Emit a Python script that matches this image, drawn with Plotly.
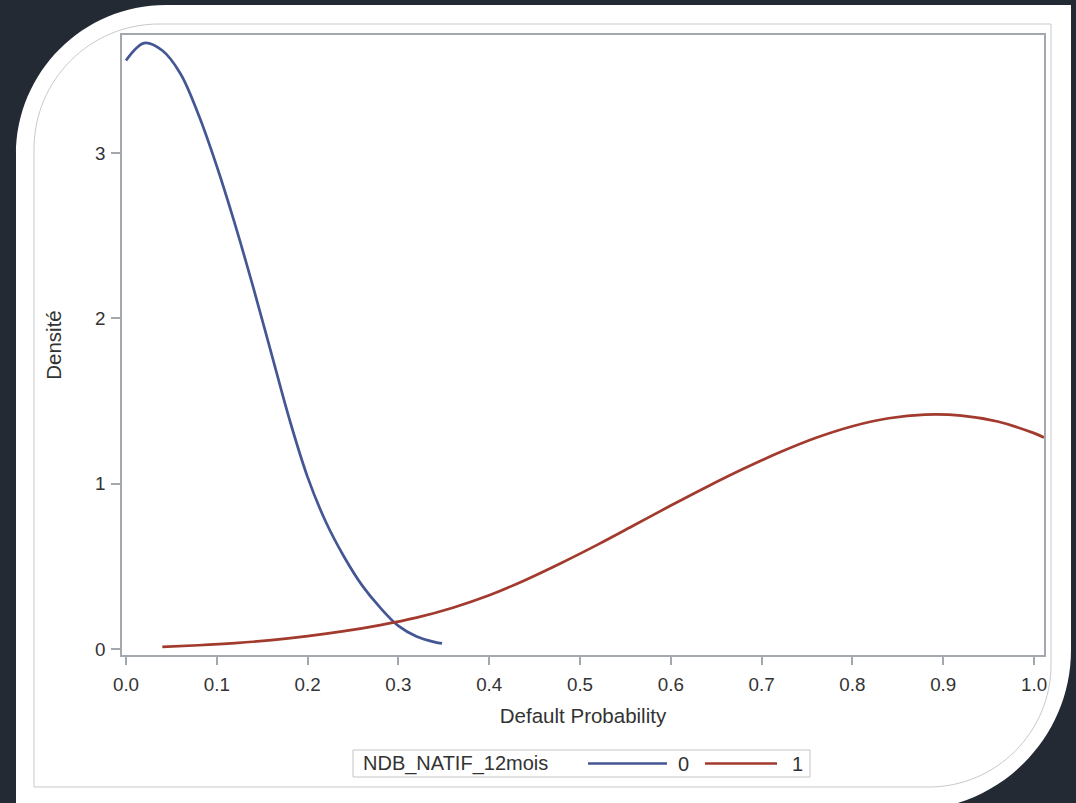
import plotly.graph_objects as go

# ---- data ----
x_grp0 = [0.00, 0.02, 0.04, 0.06, 0.08, 0.10, 0.12, 0.14, 0.16, 0.18,
          0.20, 0.22, 0.24, 0.26, 0.28, 0.30, 0.32, 0.34, 0.348]
y_grp0 = [3.56, 3.665, 3.62, 3.48, 3.23, 2.92, 2.57, 2.19, 1.79, 1.39,
          1.04, 0.77, 0.56, 0.385, 0.25, 0.14, 0.076, 0.042, 0.034]

x_grp1 = [0.04, 0.08, 0.12, 0.16, 0.20, 0.24, 0.28, 0.32, 0.36, 0.40, 0.44, 0.48, 0.52,
          0.56, 0.60, 0.64, 0.68, 0.72, 0.76, 0.80, 0.84, 0.88, 0.92, 0.96, 1.00, 1.011]
y_grp1 = [0.013, 0.023, 0.036, 0.054, 0.078, 0.108, 0.145, 0.19, 0.25, 0.325, 0.418, 0.522, 0.633,
          0.75, 0.868, 0.982, 1.09, 1.19, 1.278, 1.348, 1.396, 1.418, 1.412, 1.376, 1.306, 1.28]

x_ticks = [0.0, 0.1, 0.2, 0.3, 0.4, 0.5, 0.6, 0.7, 0.8, 0.9, 1.0]
x_ticklabels = ["0.0", "0.1", "0.2", "0.3", "0.4", "0.5", "0.6", "0.7", "0.8", "0.9", "1.0"]
y_ticks = [0, 1, 2, 3]
y_ticklabels = ["0", "1", "2", "3"]

group_labels = ["0", "1"]
legend_title = "NDB_NATIF_12mois"
colors = ["#445694", "#A23A2E"]

# ---- geometry helpers (pixel -> paper) ----
W_FIG, H_FIG = 1076, 803
L, R, T, B = 122, 1044, 35, 655
PW, PH = R - L, B - T


def px(x):
    return (x - L) / PW


def py(y):
    return (B - y) / PH


def path(cmds):
    out = []
    for c in cmds:
        if isinstance(c, str):
            out.append(c)
        else:
            out.append("%.5f,%.5f" % (px(c[0]), py(c[1])))
    return " ".join(out)


FONT = "Liberation Sans, Arial, sans-serif"
TXT = "#333333"
AXC = "#a3a8ae"

fig = go.Figure()
fig.add_trace(go.Scatter(x=x_grp0, y=y_grp0, mode="lines", name=group_labels[0],
                         line=dict(color=colors[0], width=2.7, shape="spline", smoothing=1.0),
                         showlegend=False))
fig.add_trace(go.Scatter(x=x_grp1, y=y_grp1, mode="lines", name=group_labels[1],
                         line=dict(color=colors[1], width=2.7, shape="spline", smoothing=1.0),
                         showlegend=False))

shapes = []
# white card
shapes.append(dict(type="path", xref="paper", yref="paper", layer="below",
                   path=path(["M", (16, 830), "L", (16, 155), "C", (16, 72), (83, 5), (166, 5),
                              "L", (1071, 5), "L", (1071, 650), "C", (1071, 738), (999, 810), (911, 810),
                              "L", (911, 830), "Z"]),
                   fillcolor="white", line=dict(width=0)))
# inner thin frame
shapes.append(dict(type="path", xref="paper", yref="paper", layer="below",
                   path=path(["M", (34, 787), "L", (34, 149), "C", (34, 80), (90, 24), (159, 24),
                              "L", (1051, 24), "L", (1051, 665), "C", (1051, 732), (996, 787), (929, 787),
                              "Z"]),
                   fillcolor="rgba(0,0,0,0)", line=dict(color="#c9c9c9", width=1)))
# legend box
shapes.append(dict(type="rect", xref="paper", yref="paper", layer="above",
                   x0=px(353), x1=px(810), y0=py(750), y1=py(777),
                   line=dict(color="#c4c4c4", width=1), fillcolor="white"))
# legend lines
shapes.append(dict(type="line", xref="paper", yref="paper", x0=px(588), x1=px(667),
                   y0=py(763.5), y1=py(763.5), line=dict(color=colors[0], width=2.7)))
shapes.append(dict(type="line", xref="paper", yref="paper", x0=px(705), x1=px(777),
                   y0=py(763.5), y1=py(763.5), line=dict(color=colors[1], width=2.7)))

annotations = [
    dict(text=legend_title, x=px(361), y=py(763.5), xref="paper", yref="paper",
         xanchor="left", yanchor="middle", showarrow=False, font=dict(family=FONT, size=20, color=TXT)),
    dict(text=group_labels[0], x=px(676), y=py(763.5), xref="paper", yref="paper",
         xanchor="left", yanchor="middle", showarrow=False, font=dict(family=FONT, size=20, color=TXT)),
    dict(text=group_labels[1], x=px(790), y=py(763.5), xref="paper", yref="paper",
         xanchor="left", yanchor="middle", showarrow=False, font=dict(family=FONT, size=20, color=TXT)),
]

fig.update_layout(
    width=W_FIG, height=H_FIG,
    margin=dict(l=L, r=W_FIG - R, t=T, b=H_FIG - B, pad=0),
    paper_bgcolor="#232a34",
    plot_bgcolor="rgba(0,0,0,0)",
    shapes=shapes,
    annotations=annotations,
    showlegend=False,
    font=dict(family=FONT, color=TXT),
)
fig.update_xaxes(range=[-0.0044, 1.011], tickvals=x_ticks, ticktext=x_ticklabels,
                 showgrid=False, zeroline=False, showline=True, linecolor=AXC, linewidth=1.5,
                 mirror=True, ticks="outside", ticklen=8, tickwidth=1.5, tickcolor=AXC,
                 tickfont=dict(family=FONT, size=18.8, color=TXT), ticklabelstandoff=4,
                 title=dict(text="Default Probability", font=dict(family=FONT, size=20.5, color=TXT),
                            standoff=14))
fig.update_yaxes(range=[-0.036, 3.714], tickvals=y_ticks, ticktext=y_ticklabels,
                 showgrid=False, zeroline=False, showline=True, linecolor=AXC, linewidth=1.5,
                 mirror=True, ticks="outside", ticklen=9, tickwidth=1.5, tickcolor=AXC,
                 tickfont=dict(family=FONT, size=18.8, color=TXT), ticklabelstandoff=2,
                 title=dict(text="Densité", font=dict(family=FONT, size=20.5, color=TXT),
                            standoff=28))

fig.write_html("out.html")
